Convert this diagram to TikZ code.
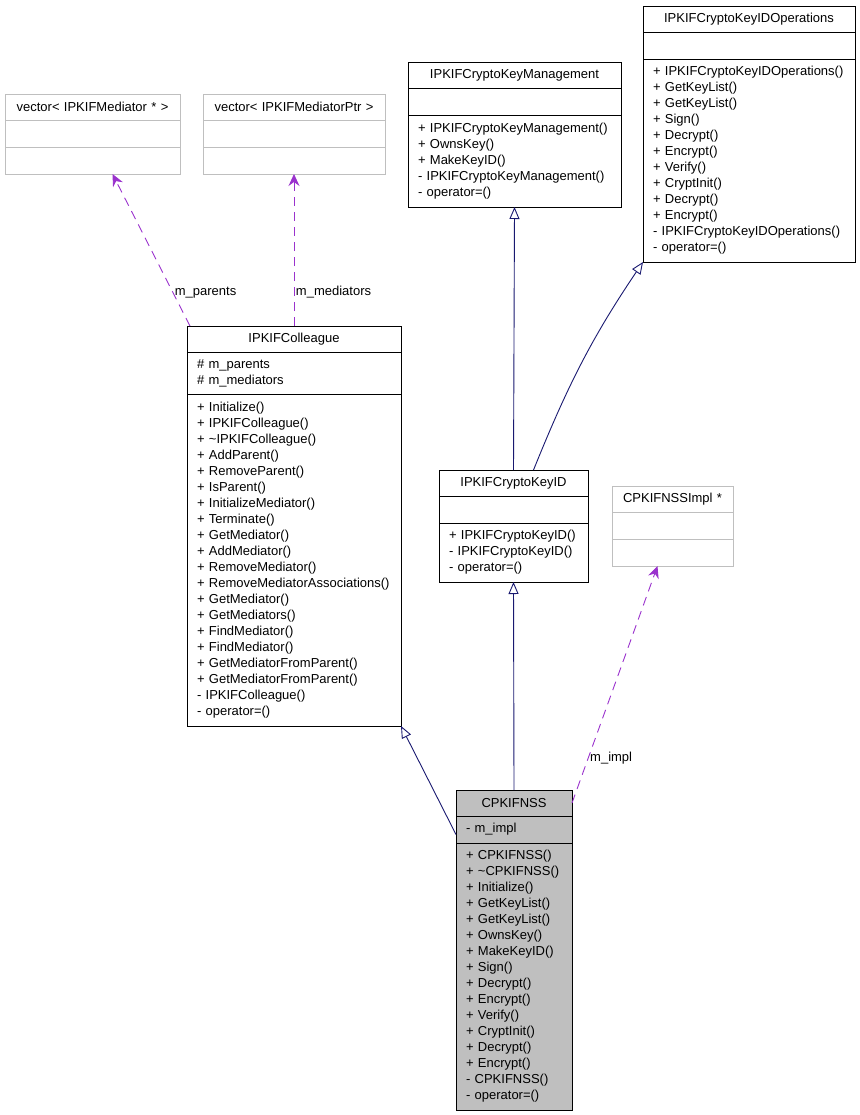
\documentclass[tikz,border=0pt]{standalone}
\usepackage{fontspec}
\setmainfont{Liberation Sans}
\usepackage{xcolor}
\usepackage{tikz}
\usetikzlibrary{arrows.meta, positioning}

\definecolor{edgenavy}{RGB}{25,25,112}
\definecolor{edgepurple}{RGB}{154,50,205}
\definecolor{boxgrey}{RGB}{191,191,191}

\newcommand\umlfont{\fontsize{13}{16}\selectfont}

\tikzset{
  cls/.style={draw, line width=0.9pt, inner xsep=10pt, inner ysep=0pt,
    outer sep=0pt, font=\umlfont, text width=#1},
  clstitle/.style={cls=#1, align=center, minimum height=26pt},
  clsempty/.style={cls=#1, minimum height=27pt},
  clslist/.style={cls=#1, align=left},
  inherit/.style={draw=edgenavy, line width=0.9pt,
    -{Triangle[open, length=12pt, width=10pt]}},
  uses/.style={draw=edgepurple, line width=0.9pt, dash pattern=on 9pt off 6pt,
    -{Stealth[length=12pt, width=11pt, inset=4pt]}},
  uselabel/.style={font=\umlfont, anchor=west, inner sep=1.5pt}
}

\begin{document}
\begin{tikzpicture}[x=1pt, y=-1pt]
  \useasboundingbox (0,0) rectangle (859,1115);

  % template containers (grey)
  \node[clstitle=155pt, draw=boxgrey, anchor=north west] (vecptr) at (5,94)
      {vector< IPKIFMediator * >};
  \node[clsempty=155pt, draw=boxgrey, below=0pt of vecptr] (vecptr-attr) {};
  \node[clsempty=155pt, draw=boxgrey, below=0pt of vecptr-attr] (vecptr-ops) {};

  \node[clstitle=162pt, draw=boxgrey, anchor=north west] (vecmed) at (203,94)
      {vector< IPKIFMediatorPtr >};
  \node[clsempty=162pt, draw=boxgrey, below=0pt of vecmed] (vecmed-attr) {};
  \node[clsempty=162pt, draw=boxgrey, below=0pt of vecmed-attr] (vecmed-ops) {};

  % key management
  \node[clstitle=193pt, anchor=north west] (mgmt) at (408,62)
      {IPKIFCryptoKeyManagement};
  \node[clsempty=193pt, below=0pt of mgmt] (mgmt-attr) {};
  \node[clslist=193pt, minimum height=92pt, below=0pt of mgmt-attr] (mgmt-ops)
      {+ IPKIFCryptoKeyManagement()\\+ OwnsKey()\\+ MakeKeyID()\\
       - IPKIFCryptoKeyManagement()\\- operator=()};

  % key id operations
  \node[clstitle=192pt, anchor=north west] (keyops) at (643,6)
      {IPKIFCryptoKeyIDOperations};
  \node[clsempty=192pt, below=0pt of keyops] (keyops-attr) {};
  \node[clslist=192pt, minimum height=203pt, below=0pt of keyops-attr] (keyops-ops)
      {+ IPKIFCryptoKeyIDOperations()\\+ GetKeyList()\\+ GetKeyList()\\
       + Sign()\\+ Decrypt()\\+ Encrypt()\\+ Verify()\\+ CryptInit()\\
       + Decrypt()\\+ Encrypt()\\- IPKIFCryptoKeyIDOperations()\\- operator=()};

  % colleague
  \node[clstitle=194pt, anchor=north west] (colleague) at (187,326)
      {IPKIFColleague};
  \node[clslist=194pt, minimum height=42pt, below=0pt of colleague] (colleague-attr)
      {\# m\_parents\\\# m\_mediators};
  \node[clslist=194pt, minimum height=332pt, below=0pt of colleague-attr] (colleague-ops)
      {+ Initialize()\\+ IPKIFColleague()\\+ \textasciitilde IPKIFColleague()\\
       + AddParent()\\+ RemoveParent()\\+ IsParent()\\+ InitializeMediator()\\
       + Terminate()\\+ GetMediator()\\+ AddMediator()\\+ RemoveMediator()\\
       + RemoveMediatorAssociations()\\+ GetMediator()\\+ GetMediators()\\
       + FindMediator()\\+ FindMediator()\\+ GetMediatorFromParent()\\
       + GetMediatorFromParent()\\- IPKIFColleague()\\- operator=()};

  % key id
  \node[clstitle=129pt, anchor=north west] (keyid) at (439,470)
      {IPKIFCryptoKeyID};
  \node[clsempty=129pt, below=0pt of keyid] (keyid-attr) {};
  \node[clslist=129pt, minimum height=59pt, below=0pt of keyid-attr] (keyid-ops)
      {+ IPKIFCryptoKeyID()\\- IPKIFCryptoKeyID()\\- operator=()};

  % impl pointer (grey)
  \node[clstitle=101pt, draw=boxgrey, anchor=north west] (impl) at (612,486)
      {CPKIFNSSImpl *};
  \node[clsempty=101pt, draw=boxgrey, below=0pt of impl] (impl-attr) {};
  \node[clsempty=101pt, draw=boxgrey, below=0pt of impl-attr] (impl-ops) {};

  % the class itself
  \node[clstitle=96pt, fill=boxgrey, anchor=north west] (nss) at (456,790)
      {CPKIFNSS};
  \node[clslist=96pt, fill=boxgrey, minimum height=27pt, below=0pt of nss] (nss-attr)
      {- m\_impl};
  \node[clslist=96pt, fill=boxgrey, minimum height=267pt, below=0pt of nss-attr] (nss-ops)
      {+ CPKIFNSS()\\+ \textasciitilde CPKIFNSS()\\+ Initialize()\\
       + GetKeyList()\\+ GetKeyList()\\+ OwnsKey()\\+ MakeKeyID()\\+ Sign()\\
       + Decrypt()\\+ Encrypt()\\+ Verify()\\+ CryptInit()\\+ Decrypt()\\
       + Encrypt()\\- CPKIFNSS()\\- operator=()};

  % inheritance
  \draw[inherit] (nss.north) -- (keyid-ops.south);
  \draw[inherit] (keyid.north) -- (mgmt-ops.south);
  \draw[inherit] ([xshift=20pt]keyid.north) to[out=68, in=236] (keyops-ops.south west);
  \draw[inherit] ([yshift=-5pt]nss-attr.west) -- (colleague-ops.south east);

  % members
  \draw[uses] ([xshift=3pt]colleague.north west) -- ([xshift=20pt]vecptr-ops.south)
      node[uselabel, pos=0.22] {m\_parents};
  \draw[uses] (colleague.north) -- (vecmed-ops.south)
      node[uselabel, pos=0.22] {m\_mediators};
  \draw[uses] (nss.east) -- ([xshift=-15pt]impl-ops.south)
      node[uselabel, pos=0.19] {m\_impl};
\end{tikzpicture}
\end{document}
